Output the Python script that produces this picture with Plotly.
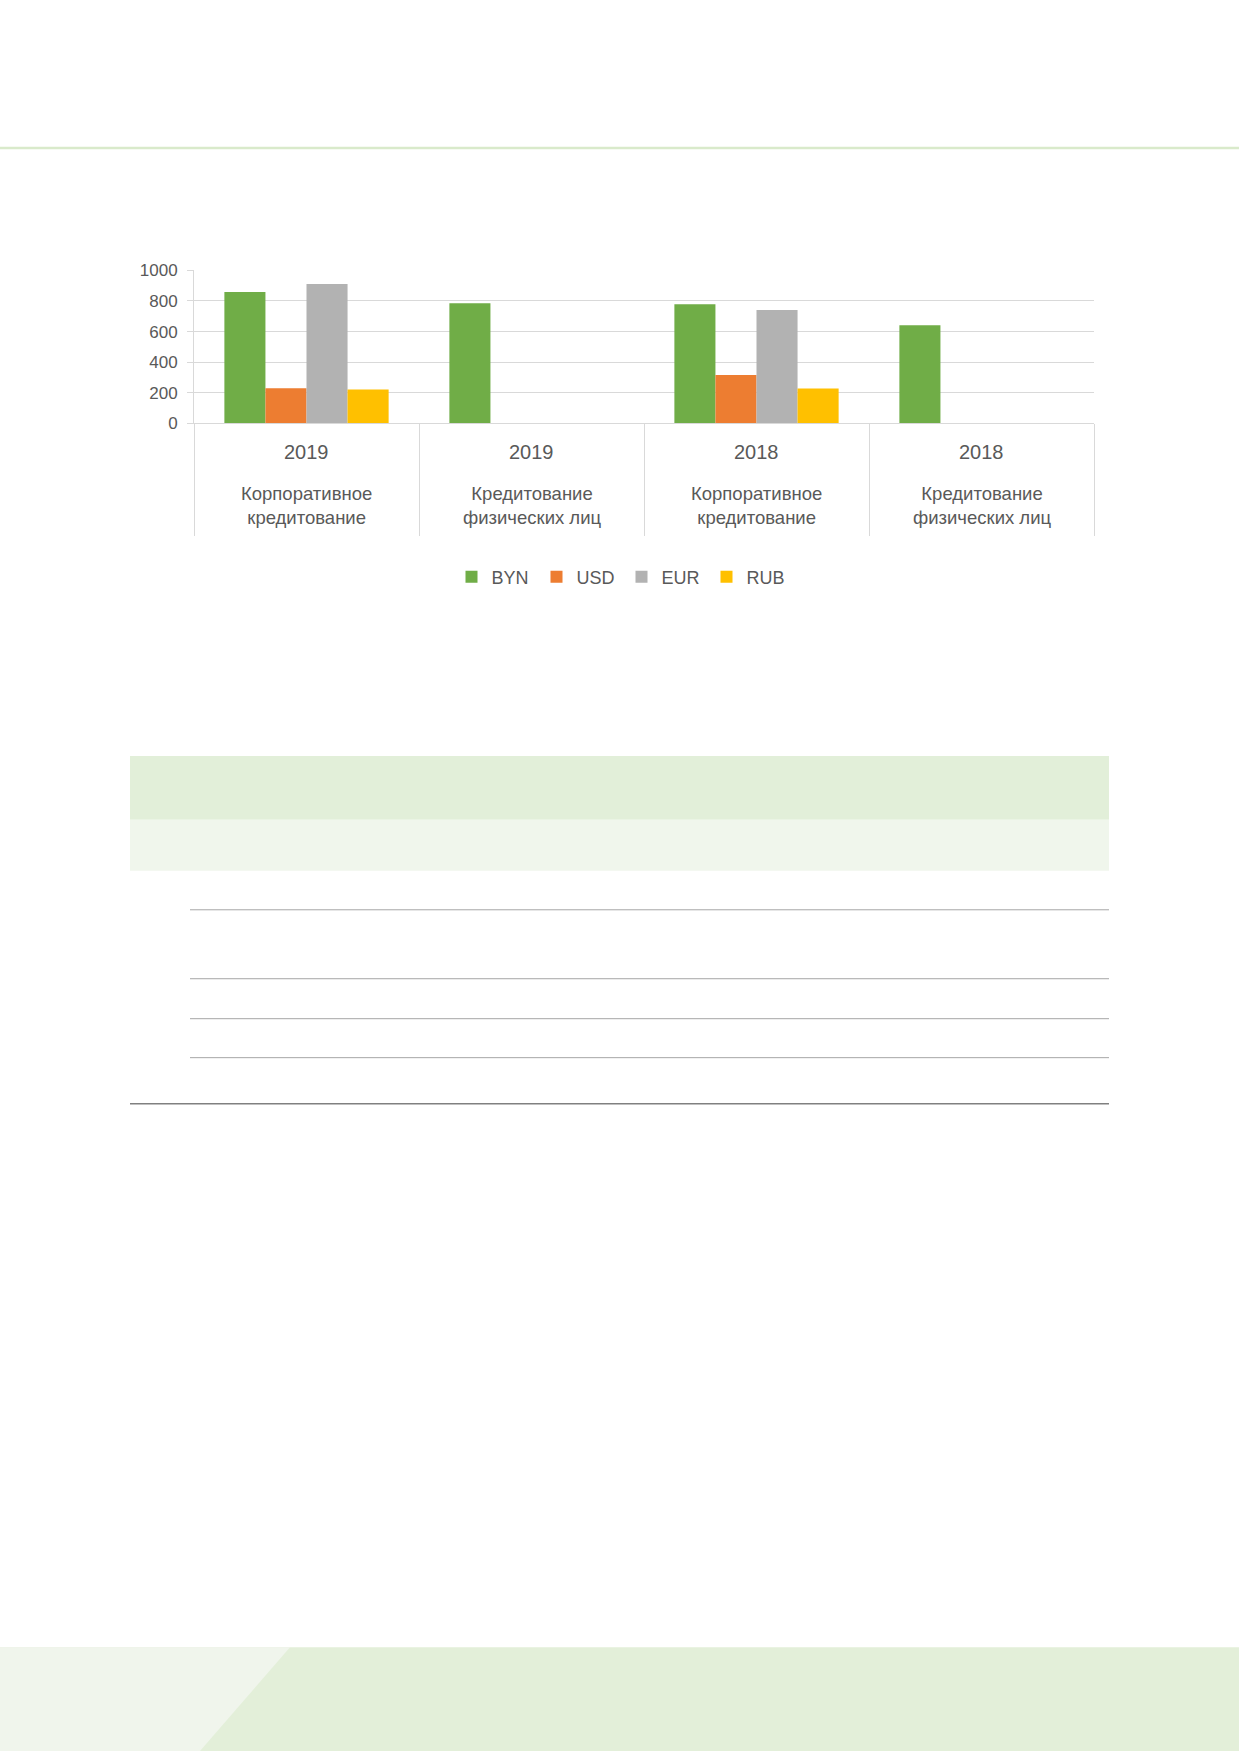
import plotly.graph_objects as go

W = 1239
H = 1761
# the page photo comes out squeezed a little in height and pushed down,
# so page positions are mapped back to figure pixels here
Y_OFF = 7.5
Y_SCALE = 0.99

years = ["2019", "2019", "2018", "2018"]
segments = ["Корпоративное<br>кредитование", "Кредитование<br>физических лиц",
            "Корпоративное<br>кредитование", "Кредитование<br>физических лиц"]
categories = [y + " " + s for y, s in zip(years, segments)]

byn = [858, 785, 778, 641]
usd = [230, None, 317, None]
eur = [911, None, 741, None]
rub = [222, None, 228, None]

series = [("BYN", byn, "#70ad47"), ("USD", usd, "#ed7d31"),
          ("EUR", eur, "#b2b2b2"), ("RUB", rub, "#ffc000")]

txt = "#595959"
grid = "#d9d9d9"
font = "Liberation Sans, Arial, sans-serif"


def px(x):
    return x / W


def py(y):
    return 1 - ((y - Y_OFF) / Y_SCALE) / H


fig = go.Figure()
for name, vals, col in series:
    fig.add_trace(go.Bar(x=categories, y=vals, name=name, marker_color=col,
                         marker_line_width=0))

# year and segment labels under each category
for c, y, s in zip(categories, years, segments):
    fig.add_annotation(x=c, xref="x", y=py(450.5), yref="paper", text=y,
                       showarrow=False, yanchor="middle",
                       font=dict(size=20, color=txt, family=font))
    fig.add_annotation(x=c, xref="x", y=py(504), yref="paper", text=s,
                       showarrow=False, yanchor="middle",
                       font=dict(size=18.5, color=txt, family=font))

shapes = [
    # top rule
    dict(type="line", xref="paper", yref="paper", x0=0, x1=1, y0=py(146.5), y1=py(146.5),
         line=dict(color="#d9eacb", width=2.5)),
    # table bands
    dict(type="rect", xref="paper", yref="paper", x0=px(130), x1=px(1109),
         y0=py(755), y1=py(819), fillcolor="#e2efd9", line_width=0, layer="below"),
    dict(type="rect", xref="paper", yref="paper", x0=px(130), x1=px(1109),
         y0=py(819), y1=py(870), fillcolor="#f0f6ec", line_width=0, layer="below"),
    dict(type="line", xref="paper", yref="paper", x0=px(130), x1=px(1109),
         y0=py(1103), y1=py(1103), line=dict(color="#808080", width=1.5)),
    # footer
    dict(type="rect", xref="paper", yref="paper", x0=0, x1=1,
         y0=py(1647), y1=0, fillcolor="#e3efd9", line_width=0, layer="below"),
    dict(type="path", xref="paper", yref="paper",
         path=f"M0,{py(1647)} L{px(290)},{py(1647)} L{px(200)},0 L0,0 Z",
         fillcolor="#f0f5ec", line_width=0, layer="below"),
]
for yy in [909, 978, 1018, 1057]:
    shapes.append(dict(type="line", xref="paper", yref="paper", x0=px(190), x1=px(1109),
                       y0=py(yy), y1=py(yy), line=dict(color="#a6a6a6", width=1)))

fig.update_layout(
    width=W, height=H, autosize=False,
    margin=dict(l=0, r=0, t=0, b=0),
    paper_bgcolor="white", plot_bgcolor="white",
    barmode="group", bargap=0.27, bargroupgap=0,
    font=dict(family=font, color=txt),
    shapes=shapes,
    legend=dict(orientation="h", x=px(451.5), xanchor="left", y=py(576), yanchor="middle",
                entrywidth=40,
                font=dict(size=18, color=txt, family=font), bgcolor="rgba(0,0,0,0)"),
    xaxis=dict(domain=[px(194), px(1094)], showticklabels=False, showgrid=False,
               showline=True, linecolor=grid, linewidth=1,
               ticks="outside", tickson="boundaries", ticklen=110 / Y_SCALE, tickcolor=grid,
               zeroline=False),
    yaxis=dict(domain=[py(422.3), py(269)], range=[0, 1000], dtick=200,
               showgrid=True, gridcolor=grid, gridwidth=1, zeroline=False,
               ticks="outside", ticklen=6, tickcolor=grid,
               showline=True, linecolor=grid, linewidth=1,
               ticklabelstandoff=6,
               tickfont=dict(size=17, color=txt, family=font)),
)

fig.write_html("out.html", config={"displayModeBar": False},
               post_script="document.body.style.margin='0';document.body.style.overflow='hidden';")
